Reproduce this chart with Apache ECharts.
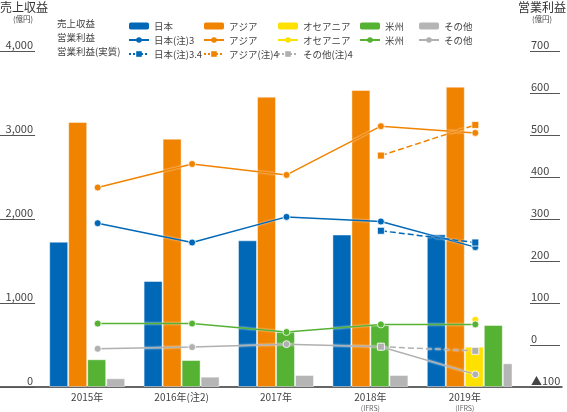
<!DOCTYPE html>
<html>
<head>
<meta charset="utf-8">
<script src="https://cdn.jsdelivr.net/npm/echarts@6/dist/echarts.min.js"></script>
<style>
  html, body { margin: 0; padding: 0; background: #fff; }
  #main { width: 567px; height: 412px; }
</style>
</head>
<body>
<div id="main"></div>
<script>
// 地域別 売上収益(棒) と 営業利益(折れ線)
var years = ['2015年', '2016年(注2)', '2017年', '2018年', '2019年'];
var yearNotes = ['', '', '', '(IFRS)', '(IFRS)'];

// 売上収益 (億円, 左軸)
var japanRev = [1730, 1262, 1746, 1815, 1818];
var asiaRev = [3155, 2956, 3456, 3536, 3575];
var oceaniaRev = [null, null, null, null, 480];
var americasRev = [330, 321, 658, 738, 738];
var otherRev = [104, 123, 143, 143, 282];

// 営業利益 (億円, 右軸)
var japanOp = [290, 244, 305, 294, 233];
var asiaOp = [375, 431, 405, 521, 505];
var oceaniaOp = [null, null, null, null, 60];
var americasOp = [51, 51, 31, 49, 49];
var otherOp = [-9, -5, 2, -4, -70];

// 営業利益(実質)
var japanOpAdj = [null, null, null, 272, 244];
var asiaOpAdj = [null, null, null, 451, 524];
var otherOpAdj = [null, null, null, -4, -14];

var leftTicks = [0, 4000, 1000];
var rightTicks = [-100, 700, 100];

var C = {
    blue: '#0068b7',
    orange: '#f08300',
    yellow: '#ffe100',
    green: '#55b233',
    gray: '#b5b5b5'
};
var FONT = '"Noto Sans CJK JP", "Noto Sans", sans-serif';
var TXT = '#444';

var labelMap = {
    'アジア営業': 'アジア',
    'オセアニア営業': 'オセアニア',
    '米州営業': '米州',
    'その他営業': 'その他'
};
var adjNames = ['日本(注)3.4', 'アジア(注)4', 'その他(注)4'];

// オセアニアがある年は 米州/その他 を右へずらす
function withoutOceania(arr) {
    return arr.map(function (v, i) { return oceaniaRev[i] == null ? v : null; });
}
function withOceania(arr) {
    return arr.map(function (v, i) { return oceaniaRev[i] == null ? null : v; });
}

var chart = echarts.init(document.getElementById('main'));

function bar(name, color, data, xi) {
    return {
        name: name, type: 'bar', xAxisIndex: xi, yAxisIndex: 0,
        barWidth: 19, barGap: '0%',
        itemStyle: { color: color, borderColor: 'rgba(255,255,255,0.45)', borderWidth: 1 },
        data: data
    };
}
function line(name, color, data, dashed, symbol) {
    return {
        name: name, type: 'line', xAxisIndex: 3, yAxisIndex: 3, z: 5,
        symbol: symbol || 'circle', symbolSize: 7,
        connectNulls: false,
        lineStyle: { color: color, width: 1.5, type: dashed ? 'dashed' : 'solid',
            shadowColor: 'rgba(255,255,255,0.9)', shadowBlur: 2 },
        itemStyle: { color: color, borderColor: '#fff', borderWidth: 0.8 },
        data: data
    };
}
function legendCol(left, names) {
    return {
        orient: 'vertical', left: left, top: 15,
        itemWidth: 20, itemHeight: 7, itemGap: 2,
        selectedMode: false,
        itemStyle: { borderWidth: 0 },
        textStyle: { fontFamily: FONT, fontSize: 9.5, color: TXT, lineHeight: 12 },
        formatter: function (n) { return labelMap[n] || n; },
        data: names.map(function (n) {
            return adjNames.indexOf(n) >= 0
                ? { name: n, lineStyle: { type: [2, 2], width: 2 } }
                : { name: n };
        })
    };
}
function rowLabel(text, y) {
    return { type: 'text', left: 57, top: y - 6,
        style: { text: text, font: '9.5px ' + FONT, fill: TXT } };
}

var option = {
    animation: false,
    grid: [
        { left: 40, right: 55, top: 51, bottom: 25 },
        { left: 0, right: 5, top: 51, bottom: 25 },
        { left: 50.5, right: 44.5, top: 51, bottom: 25 }
    ],
    legend: [
        legendCol(123, ['日本', '日本(注)3', '日本(注)3.4']),
        legendCol(198, ['アジア', 'アジア営業', 'アジア(注)4']),
        legendCol(272, ['オセアニア', 'オセアニア営業', 'その他(注)4']),
        legendCol(354, ['米州', '米州営業']),
        legendCol(413, ['その他', 'その他営業'])
    ],
    graphic: [
        { type: 'text', left: 0, top: 1, style: { text: '売上収益', font: '12px ' + FONT, fill: '#333' } },
        { type: 'text', left: 13, top: 15, style: { text: '(億円)', font: '7.5px ' + FONT, fill: TXT } },
        { type: 'text', right: 1, top: 1, style: { text: '営業利益', font: '12px ' + FONT, fill: '#333' } },
        { type: 'text', left: 532, top: 15, style: { text: '(億円)', font: '7.5px ' + FONT, fill: TXT } },
        rowLabel('売上収益', 25),
        rowLabel('営業利益', 39),
        rowLabel('営業利益(実質)', 53)
    ],
    xAxis: [
        {
            type: 'category', gridIndex: 0, data: years,
            axisLine: { show: false }, axisTick: { show: false },
            axisLabel: {
                margin: 4, interval: 0, color: TXT, fontFamily: FONT, fontSize: 10,
                formatter: function (v, i) {
                    return yearNotes[i] ? '{a|' + v + '}\n{b|' + yearNotes[i] + '}' : '{a|' + v + '}';
                },
                rich: {
                    a: { fontFamily: FONT, fontSize: 10, color: TXT, lineHeight: 13 },
                    b: { fontFamily: FONT, fontSize: 7, color: '#666', lineHeight: 9 }
                }
            }
        },
        {
            type: 'category', gridIndex: 0, data: years, show: false
        },
        {
            type: 'value', gridIndex: 1, min: 0, max: 1,
            axisLine: { show: true, onZero: false, lineStyle: { color: '#333', width: 1.5 } },
            axisTick: { show: false }, axisLabel: { show: false }, splitLine: { show: false }
        },
        {
            type: 'category', gridIndex: 2, data: years, show: false
        }
    ],
    yAxis: [
        {
            type: 'value', gridIndex: 0, position: 'left', offset: 5,
            min: leftTicks[0], max: leftTicks[1], interval: leftTicks[2],
            axisLine: { show: false },
            axisTick: { show: true, length: 35, lineStyle: { color: '#555', width: 1 } },
            splitLine: { show: false },
            axisLabel: {
                margin: 2, verticalAlign: 'bottom', color: TXT, fontFamily: FONT, fontSize: 11,
                padding: [0, 0, 1, 0],
                formatter: function (v) { return v.toLocaleString('en-US'); }
            }
        },
        {
            type: 'value', gridIndex: 0, position: 'right', offset: 18,
            min: rightTicks[0], max: rightTicks[1], interval: rightTicks[2],
            axisLine: { show: false },
            axisTick: { show: true, length: 30, lineStyle: { color: '#555', width: 1 } },
            splitLine: { show: false },
            axisLabel: {
                margin: 1, verticalAlign: 'bottom', color: TXT, fontFamily: FONT, fontSize: 11,
                padding: [0, 0, 1, 0],
                formatter: function (v) { return v < 0 ? '▲' + (-v) : String(v); }
            }
        },
        { type: 'value', gridIndex: 1, show: false, min: 0, max: 1 },
        { type: 'value', gridIndex: 2, show: false, min: rightTicks[0], max: rightTicks[1] }
    ],
    series: [
        bar('日本', C.blue, japanRev, 0),
        bar('アジア', C.orange, asiaRev, 0),
        bar('米州', C.green, withoutOceania(americasRev), 0),
        bar('その他', C.gray, withoutOceania(otherRev), 0),
        // 2019年 はオセアニアが入るため 3本分の空きの後ろに並べる
        { name: '', type: 'bar', xAxisIndex: 1, yAxisIndex: 0, barWidth: 57, barGap: '0%',
          data: years.map(function () { return null; }) },
        bar('オセアニア', C.yellow, oceaniaRev, 1),
        bar('米州', C.green, withOceania(americasRev), 1),
        bar('その他', C.gray, withOceania(otherRev), 1),

        line('日本(注)3', C.blue, japanOp, false),
        line('アジア営業', C.orange, asiaOp, false),
        line('オセアニア営業', C.yellow, oceaniaOp, false),
        line('米州営業', C.green, americasOp, false),
        line('その他営業', '#b0b0b0', otherOp, false),
        line('日本(注)3.4', C.blue, japanOpAdj, true, 'rect'),
        line('アジア(注)4', C.orange, asiaOpAdj, true, 'rect'),
        line('その他(注)4', '#b0b0b0', otherOpAdj, true, 'rect')
    ]
};

chart.setOption(option);
</script>
</body>
</html>
